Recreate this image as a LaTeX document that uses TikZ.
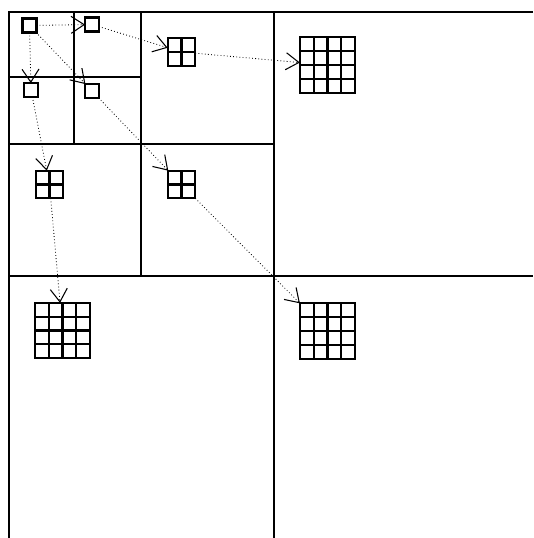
\documentclass[tikz,border=0pt]{standalone}
\usetikzlibrary{arrows.meta, calc, positioning}

\begin{document}
\begin{tikzpicture}[
    x=0.03cm, y=-0.03cm,
    split/.style={line width=2.2pt},
    tile/.style={draw, line width=1.9pt, inner sep=0pt, outer sep=0pt, minimum size=#1*0.415cm},
    bar/.style={line width=1.9pt},
    link/.style={dotted, line width=0.7pt, -{Straight Barb[length=3.9mm, width=5.1mm, line width=0.9pt]}}
]
\useasboundingbox (0,0) rectangle (533,538);

% Quadtree cells
\draw[split] (533,12) -- (9,12) -- (9,538);
\draw[split] (274,12) -- (274,538);
\draw[split] (9,276) -- (533,276);
\draw[split] (141,12) -- (141,276);
\draw[split] (9,144) -- (274,144);
\draw[split] (74,12) -- (74,144);
\draw[split] (9,77) -- (141,77);

% Single tiles (finest cells)
\node[tile=1] (S0) at (29.5,25.5) {};
\node[tile=1] (S1) at (92,24.5) {};
\node[tile=1] (S2) at (31,90) {};
\node[tile=1] (S3) at (92,91) {};

% 2x2 tiles
\node[tile=2] (M1) at (181.5,52) {};
\node[tile=2] (M2) at (49.5,184.5) {};
\node[tile=2] (M3) at (181.5,184.5) {};

% 4x4 tiles
\node[tile=4] (L1) at (327.5,65) {};
\node[tile=4] (L2) at (62.5,330.5) {};
\node[tile=4] (L3) at (327.5,331) {};

% Inner grid lines of the tiles
\foreach \t/\n in {M1/2, M2/2, M3/2, L1/4, L2/4, L3/4} {
    \foreach \k in {1,...,\n} {
        \draw[bar] ($(\t.north west)!\k/\n!(\t.north east)$) -- ($(\t.south west)!\k/\n!(\t.south east)$);
        \draw[bar] ($(\t.north west)!\k/\n!(\t.south west)$) -- ($(\t.north east)!\k/\n!(\t.south east)$);
    }
}

% Links from the first tile
\draw[link] (S0) -- (S1);
\draw[link] (S0) -- (S2);
\draw[link] (S0) -- (S3);

% Links to 2x2 tiles
\draw[link] (S1) -- (M1);
\draw[link] (S2) -- (M2);
\draw[link] (S3) -- (M3);

% Links to 4x4 tiles
\draw[link] (M1) -- (L1);
\draw[link] (M2) -- (L2);
\draw[link] (M3) -- (L3);

\end{tikzpicture}
\end{document}
